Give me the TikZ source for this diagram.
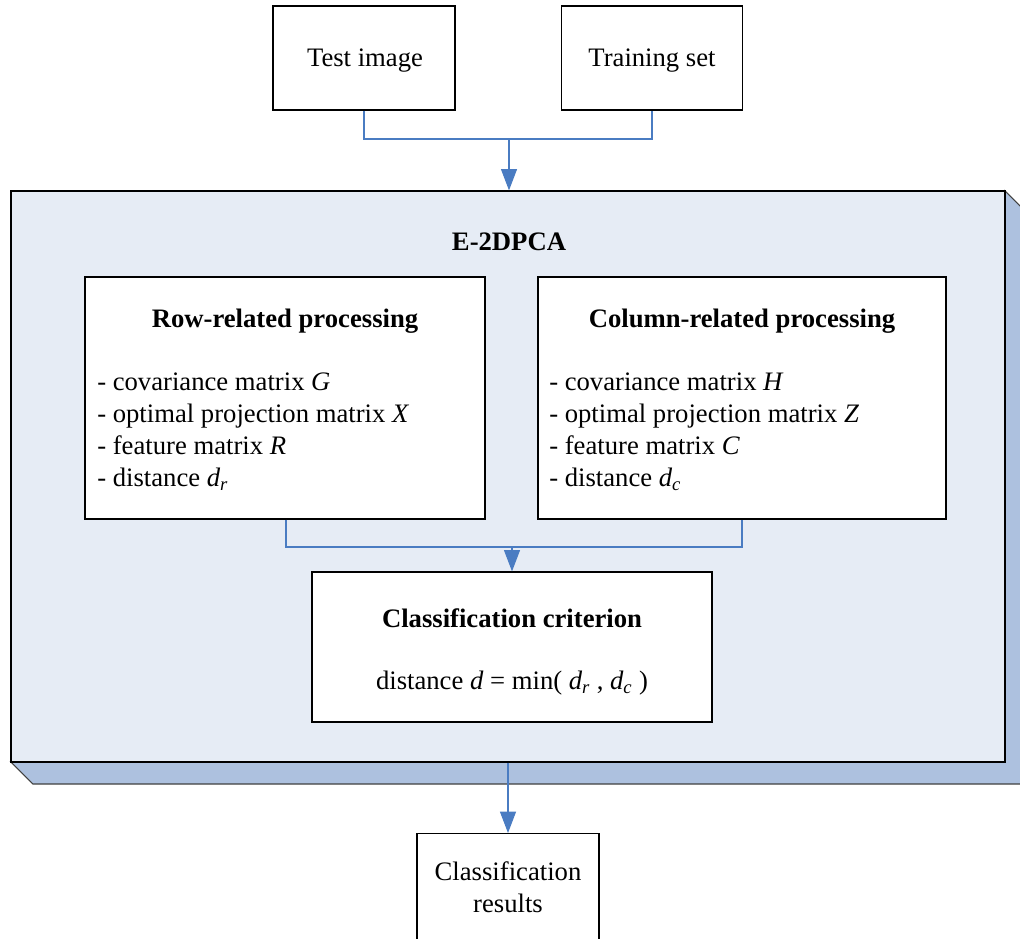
\documentclass[tikz,border=0pt]{standalone}
\usepackage{fontspec}
\setmainfont{Liberation Serif}
\usetikzlibrary{arrows.meta,positioning}
\definecolor{faceblue}{HTML}{E6ECF5}
\definecolor{sideblue}{HTML}{ADC1DF}
\definecolor{linkblue}{HTML}{4A7CC2}
\tikzset{
  px/.style={x=0.75pt,y=-0.75pt},
  box/.style={draw=black,line width=0.9pt,fill=white,inner sep=0pt},
  txt/.style={inner sep=0pt,font=\fontsize{20}{24}\selectfont},
  head/.style={txt,font=\fontsize{20}{24}\selectfont\bfseries},
  list/.style={txt,align=left,anchor=west},
  link/.style={draw=linkblue,line width=0.8pt},
  flow/.style={link,-{Triangle[width=12pt,length=16pt]}},
}
\begin{document}
\begin{tikzpicture}[px]
\useasboundingbox (0,0) rectangle (1020,938);
\clip (0,0) rectangle (1020,938);

% raised panel: side faces, then the front face
\path[fill=sideblue,draw=black!75,line width=0.8pt]
  (1005,191) -- (1027,213) -- (1027,784) -- (33,784) -- (11,762) -- (1005,762) -- cycle;
\node[draw=black,line width=0.9pt,fill=faceblue,minimum width=994*0.75pt,minimum height=571*0.75pt,inner sep=0pt]
  (panel) at (508,476.5) {};
\node[head] (ptitle) at (509,242) {E-2DPCA};

% inputs
\node[box,minimum width=182*0.75pt,minimum height=104*0.75pt] (test) at (364,58) {};
\node[txt] (testlbl) at (365,61) {Test image};
\node[box,minimum width=181*0.75pt,minimum height=104*0.75pt] (train) at (652,58) {};
\node[txt] (trainlbl) at (652,61) {Training set};

% row and column processing
\node[box,minimum width=400*0.75pt,minimum height=242*0.75pt] (row) at (285,398) {};
\node[head] (rowtitle) at (285,321) {Row-related processing};
\node[list] (rowlist) at (97,432) {- covariance matrix \textit{G}\\
- optimal projection matrix \textit{X}\\
- feature matrix \textit{R}\\
- distance \textit{d\textsubscript{r}}};

\node[box,minimum width=408*0.75pt,minimum height=242*0.75pt] (col) at (742,398) {};
\node[head] (coltitle) at (742,321) {Column-related processing};
\node[list] (collist) at (549,432) {- covariance matrix \textit{H}\\
- optimal projection matrix \textit{Z}\\
- feature matrix \textit{C}\\
- distance \textit{d\textsubscript{c}}};

% decision
\node[box,minimum width=400*0.75pt,minimum height=150*0.75pt] (crit) at (512,647) {};
\node[head] (crittitle) at (512,618) {Classification criterion};
\node[txt] (critrule) at (512,683) {distance \textit{d} = min( \textit{d\textsubscript{r}} , \textit{d\textsubscript{c}} )};

% output
\node[box,minimum width=182*0.75pt,minimum height=150*0.75pt,anchor=north] (result) at (508,833) {};
\node[txt,align=center] (resultlbl) at (508,887) {Classification\\results};

% connectors
\coordinate (jin) at (509,139);
\coordinate (jmid) at (512,547);
\draw[link] (test.south) |- (jin) -| (train.south);
\draw[flow] (jin) -- (jin |- panel.north);
\draw[link] ([xshift=1pt*0.75]row.south) |- (jmid) -| (col.south);
\draw[flow] (jmid) -- (crit.north);
\draw[flow] (panel.south) -- (result.north);
\end{tikzpicture}
\end{document}
